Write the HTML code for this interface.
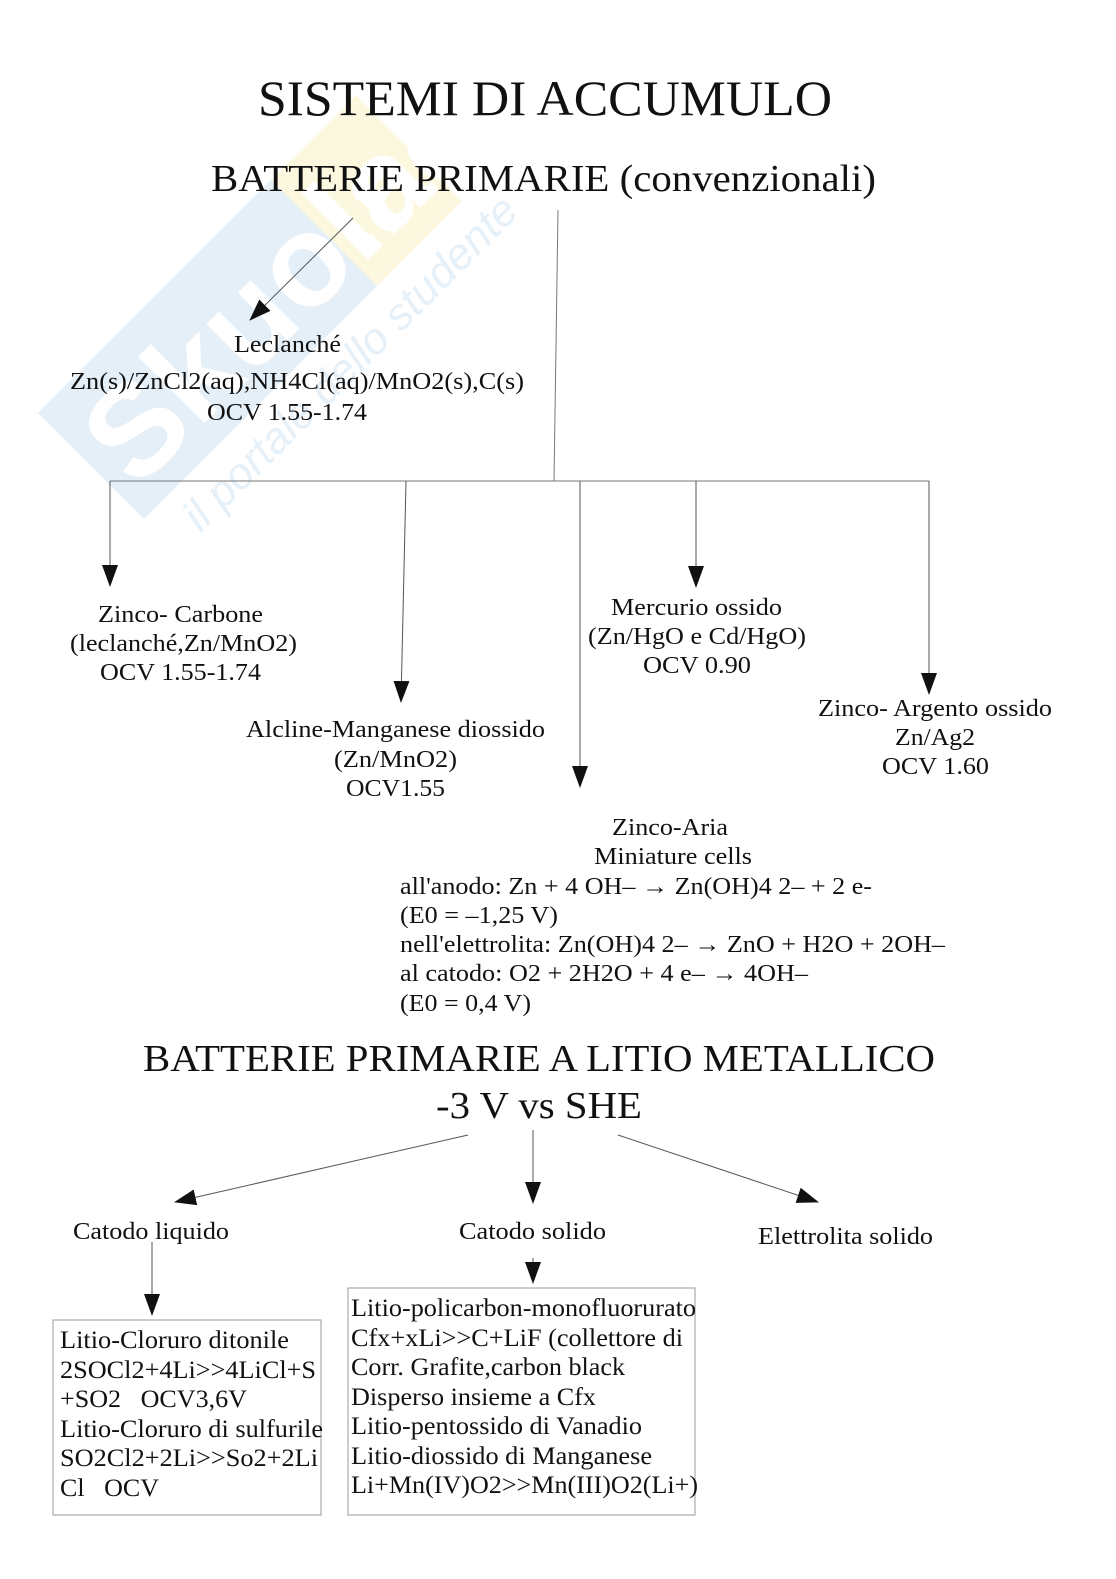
<!DOCTYPE html>
<html><head><meta charset="utf-8"><style>
html,body{margin:0;padding:0;background:#fff;}
svg{display:block;}
text{font-family:"Liberation Serif",serif;fill:#111;}
</style></head><body>
<svg width="1116" height="1579" viewBox="0 0 1116 1579" xmlns="http://www.w3.org/2000/svg">
<defs>
<marker id="ah" markerWidth="22" markerHeight="16" refX="21" refY="8" orient="auto" markerUnits="userSpaceOnUse" viewBox="0 0 22 16">
<path d="M0,0 L22,8 L0,16 z" fill="#111"/></marker>
</defs>
<g transform="translate(250,300) rotate(-45)" opacity="0.55">
<rect x="-230" y="-70" width="330" height="150" fill="#cfe3f3"/>
<rect x="100" y="-70" width="120" height="150" fill="#fbf4c8"/>
<text x="-215" y="55" font-size="130" style="fill:#ffffff;font-family:'Liberation Sans',sans-serif;font-weight:bold">Skuola</text>
<text x="110" y="55" font-size="110" style="fill:#fff;font-family:'Liberation Sans',sans-serif;font-weight:bold">.net</text>
<text x="-200" y="130" font-size="44" style="fill:#d3e5f3;font-family:'Liberation Sans',sans-serif;font-style:italic">il portale dello studente</text>
</g>
<text x="258" y="115" font-size="50" textLength="574" lengthAdjust="spacingAndGlyphs">SISTEMI DI ACCUMULO</text>
<text x="211" y="191" font-size="38" textLength="665" lengthAdjust="spacingAndGlyphs">BATTERIE PRIMARIE (convenzionali)</text>
<g stroke="#777" stroke-width="1" fill="none">
<line x1="353" y1="218" x2="250" y2="320" stroke="#555" marker-end="url(#ah)"/>
<line x1="558" y1="210" x2="554" y2="481"/>
<line x1="110" y1="481" x2="929" y2="481"/>
<line x1="110" y1="481" x2="110" y2="586" stroke="#555" marker-end="url(#ah)"/>
<line x1="406" y1="481" x2="401" y2="702" stroke="#555" marker-end="url(#ah)"/>
<line x1="580" y1="481" x2="580" y2="787" stroke="#555" marker-end="url(#ah)"/>
<line x1="696" y1="481" x2="696" y2="587" stroke="#555" marker-end="url(#ah)"/>
<line x1="929" y1="481" x2="929" y2="694" stroke="#555" marker-end="url(#ah)"/>
<line x1="468" y1="1135" x2="175" y2="1202" stroke="#555" marker-end="url(#ah)"/>
<line x1="533" y1="1130" x2="533" y2="1203" stroke="#555" marker-end="url(#ah)"/>
<line x1="618" y1="1135" x2="818" y2="1202" stroke="#555" marker-end="url(#ah)"/>
<line x1="152" y1="1242" x2="152" y2="1315" stroke="#555" marker-end="url(#ah)"/>
<line x1="533" y1="1258" x2="533" y2="1283" stroke="#555" marker-end="url(#ah)"/>
<rect x="53" y="1320" width="268" height="195" stroke="#999"/>
<rect x="348" y="1288" width="347" height="227" stroke="#999"/>
</g>
<g font-size="24" lengthAdjust="spacingAndGlyphs">
<text x="234" y="352" textLength="107" lengthAdjust="spacingAndGlyphs">Leclanché</text>
<text x="70" y="389" textLength="454" lengthAdjust="spacingAndGlyphs">Zn(s)/ZnCl2(aq),NH4Cl(aq)/MnO2(s),C(s)</text>
<text x="207" y="420" textLength="160" lengthAdjust="spacingAndGlyphs">OCV 1.55-1.74</text>
<text x="98" y="622" textLength="165" lengthAdjust="spacingAndGlyphs">Zinco- Carbone</text>
<text x="70" y="651" textLength="227" lengthAdjust="spacingAndGlyphs">(leclanché,Zn/MnO2)</text>
<text x="100" y="680" textLength="161" lengthAdjust="spacingAndGlyphs">OCV 1.55-1.74</text>
<text x="611" y="615" textLength="171" lengthAdjust="spacingAndGlyphs">Mercurio ossido</text>
<text x="588" y="644" textLength="218" lengthAdjust="spacingAndGlyphs">(Zn/HgO e Cd/HgO)</text>
<text x="643" y="673" textLength="108" lengthAdjust="spacingAndGlyphs">OCV 0.90</text>
<text x="246" y="737" textLength="299" lengthAdjust="spacingAndGlyphs">Alcline-Manganese diossido</text>
<text x="334" y="767" textLength="123" lengthAdjust="spacingAndGlyphs">(Zn/MnO2)</text>
<text x="346" y="796" textLength="99" lengthAdjust="spacingAndGlyphs">OCV1.55</text>
<text x="818" y="716" textLength="234" lengthAdjust="spacingAndGlyphs">Zinco- Argento ossido</text>
<text x="895" y="745" textLength="80" lengthAdjust="spacingAndGlyphs">Zn/Ag2</text>
<text x="882" y="774" textLength="107" lengthAdjust="spacingAndGlyphs">OCV 1.60</text>
<text x="612" y="835" textLength="116" lengthAdjust="spacingAndGlyphs">Zinco-Aria</text>
<text x="594" y="864" textLength="158" lengthAdjust="spacingAndGlyphs">Miniature cells</text>
<text x="400" y="894" textLength="472" lengthAdjust="spacingAndGlyphs">all'anodo: Zn + 4 OH– → Zn(OH)4 2– + 2 e-</text>
<text x="400" y="923" textLength="158" lengthAdjust="spacingAndGlyphs">(E0 = –1,25 V)</text>
<text x="400" y="952" textLength="545" lengthAdjust="spacingAndGlyphs">nell'elettrolita: Zn(OH)4 2– → ZnO + H2O + 2OH–</text>
<text x="400" y="981" textLength="408" lengthAdjust="spacingAndGlyphs">al catodo: O2 + 2H2O + 4 e– → 4OH–</text>
<text x="400" y="1011" textLength="131" lengthAdjust="spacingAndGlyphs">(E0 = 0,4 V)</text>
<text x="73" y="1239" textLength="156" lengthAdjust="spacingAndGlyphs">Catodo liquido</text>
<text x="459" y="1239" textLength="147" lengthAdjust="spacingAndGlyphs">Catodo solido</text>
<text x="758" y="1244" textLength="175" lengthAdjust="spacingAndGlyphs">Elettrolita solido</text>
</g>
<text x="143" y="1071" font-size="38" textLength="792" lengthAdjust="spacingAndGlyphs">BATTERIE PRIMARIE A LITIO METALLICO</text>
<text x="436" y="1118" font-size="38" textLength="206" lengthAdjust="spacingAndGlyphs">-3 V vs SHE</text>
<g font-size="25">
<text x="60" y="1348" textLength="229" lengthAdjust="spacingAndGlyphs">Litio-Cloruro ditonile</text>
<text x="60" y="1378" textLength="256" lengthAdjust="spacingAndGlyphs">2SOCl2+4Li&gt;&gt;4LiCl+S</text>
<text x="60" y="1407" textLength="187" lengthAdjust="spacingAndGlyphs">+SO2 &#160; OCV3,6V</text>
<text x="60" y="1437" textLength="263" lengthAdjust="spacingAndGlyphs">Litio-Cloruro di sulfurile</text>
<text x="60" y="1466" textLength="258" lengthAdjust="spacingAndGlyphs">SO2Cl2+2Li&gt;&gt;So2+2Li</text>
<text x="60" y="1496" textLength="99" lengthAdjust="spacingAndGlyphs">Cl &#160; OCV</text>
<text x="351" y="1316" textLength="345" lengthAdjust="spacingAndGlyphs">Litio-policarbon-monofluorurato</text>
<text x="351" y="1346" textLength="332" lengthAdjust="spacingAndGlyphs">Cfx+xLi&gt;&gt;C+LiF (collettore di</text>
<text x="351" y="1375" textLength="274" lengthAdjust="spacingAndGlyphs">Corr. Grafite,carbon black</text>
<text x="351" y="1405" textLength="245" lengthAdjust="spacingAndGlyphs">Disperso insieme a Cfx</text>
<text x="351" y="1434" textLength="291" lengthAdjust="spacingAndGlyphs">Litio-pentossido di Vanadio</text>
<text x="351" y="1464" textLength="301" lengthAdjust="spacingAndGlyphs">Litio-diossido di Manganese</text>
<text x="351" y="1493" textLength="347" lengthAdjust="spacingAndGlyphs">Li+Mn(IV)O2&gt;&gt;Mn(III)O2(Li+)</text>
</g>
</svg>
</body></html>
